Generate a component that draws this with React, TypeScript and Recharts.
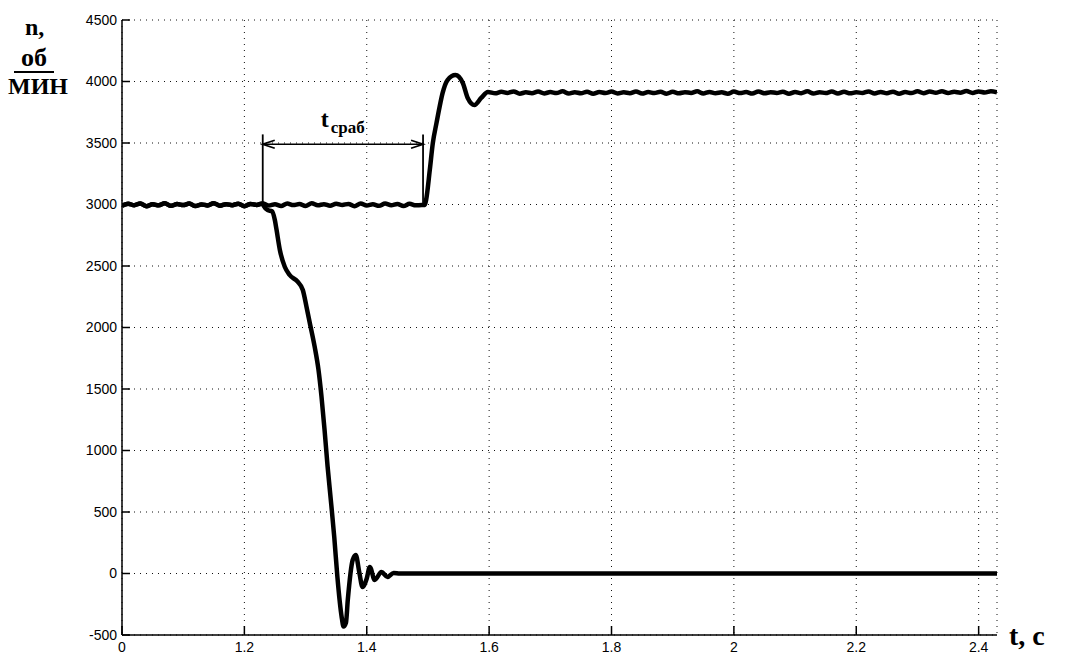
import React from 'react';
import { LineChart, Line, XAxis, YAxis, CartesianGrid, ReferenceLine } from 'recharts';

const X_TICKS = [1.0, 1.2, 1.4, 1.6, 1.8, 2.0, 2.2, 2.4];
const Y_TICKS = [-500, 0, 500, 1000, 1500, 2000, 2500, 3000, 3500, 4000, 4500];

// speed ripple around 3000 rpm, one sample every 10 ms from 1.00 s
const rippleLow = [
  2990, 3006, 2994, 3009, 2986, 3002, 2993, 3010, 2989, 3004,
  2995, 3008, 2987, 3001, 2992, 3011, 2990, 3003, 2994, 3007,
  2986, 3005, 2996, 3009, 2991, 3002, 2988, 3008, 2995, 3004,
  2987, 3010, 2993, 3003, 2990, 3007, 2996, 3005, 2986, 3009,
  2992, 3002, 2989, 3008, 2994, 3004, 2987, 3006, 2993, 2996,
];

// braking of the failed motor down to standstill
const dropTimes = [
  1.232, 1.238, 1.245, 1.2498, 1.2526, 1.258, 1.266, 1.274, 1.287, 1.2955,
  1.3015, 1.307, 1.315, 1.321, 1.326, 1.331, 1.336, 1.342, 1.347, 1.352,
  1.359, 1.362, 1.366, 1.369, 1.377, 1.382, 1.388, 1.393, 1.4, 1.405,
  1.413, 1.424, 1.434, 1.444, 1.454, 1.5, 2.0, 2.43,
];
const dropSpeeds = [
  2985, 2955, 2945, 2874, 2793, 2630, 2494, 2427, 2372, 2305,
  2169, 2035, 1840, 1660, 1440, 1170, 870, 560, 290, -28,
  -354, -430, -400, -216, 110, 150, 4, -110, -40, 53,
  -53, 12, -28, 5, 0, 0, 0, 0,
];

// acceleration of the reserve drive after switching
const riseTimes = [
  1.495, 1.497, 1.503, 1.508, 1.514, 1.519, 1.524, 1.532, 1.545, 1.557,
  1.565, 1.576, 1.587, 1.598,
];
const riseSpeeds = [
  2996, 3037, 3280, 3500, 3663, 3793, 3907, 4012, 4053, 3988,
  3866, 3809, 3866, 3915,
];

// speed ripple around 3910 rpm, one sample every 10 ms from 1.61 s
const rippleHigh = [
  3904, 3916, 3907, 3919, 3901, 3912, 3905, 3918, 3903, 3914,
  3906, 3920, 3902, 3913, 3904, 3917, 3900, 3915, 3907, 3918,
  3903, 3912, 3905, 3919, 3902, 3914, 3906, 3917, 3901, 3916,
  3904, 3913, 3907, 3920, 3903, 3915, 3905, 3912, 3901, 3918,
  3906, 3914, 3902, 3919, 3904, 3913, 3907, 3917, 3900, 3915,
  3905, 3920, 3903, 3913, 3906, 3918, 3902, 3916, 3904, 3912,
  3907, 3919, 3903, 3915, 3905, 3917, 3901, 3914, 3906, 3920,
  3905, 3918, 3908, 3921, 3906, 3916, 3909, 3922, 3907, 3919,
  3910, 3921, 3912,
];

// response time marker: t_сраб between fault and switching
const T_FAULT = 1.23;
const T_SWITCH = 1.492;
const ARROW_LEVEL = 3490;
const MARK_TOP = 3570;
const MARK_BASE = 3000;

type Pt = { t: number; n: number };

const sampled = (start: number, vals: number[]): Pt[] =>
  vals.map((n, i) => ({ t: +(start + i * 0.01).toFixed(3), n }));
const paired = (ts: number[], ns: number[]): Pt[] => ts.map((t, i) => ({ t, n: ns[i] }));

const failedMotor = [...sampled(1.0, rippleLow.slice(0, 24)), ...paired(dropTimes, dropSpeeds)];
const reserveMotor = [
  ...sampled(1.0, rippleLow),
  ...paired(riseTimes, riseSpeeds),
  ...sampled(1.61, rippleHigh),
];

const tickFont = { fontFamily: 'Liberation Sans, Arial, sans-serif', fontSize: 14, fill: '#000' };
const serif = 'Liberation Serif, Times New Roman, serif';

const DoubleArrow = (props: any) => {
  const { x1, y1, x2, y2 } = props;
  const h = 12;
  const w = 4;
  return (
    <g>
      <line x1={x1} y1={y1} x2={x2} y2={y2} stroke="#000" strokeWidth={1.5} />
      <path d={`M${x1 + h},${y1 - w} L${x1},${y1} L${x1 + h},${y1 + w}`} fill="none" stroke="#000" strokeWidth={1.8} />
      <path d={`M${x2 - h},${y2 - w} L${x2},${y2} L${x2 - h},${y2 + w}`} fill="none" stroke="#000" strokeWidth={1.8} />
      <text x={x1 + 58} y={y1 - 17} fontFamily={serif} fontWeight="bold" fontSize={24} fill="#000">
        t
        <tspan fontSize={17} dx={2} dy={6}>сраб</tspan>
      </text>
    </g>
  );
};

export default function App() {
  return (
    <div style={{ position: 'absolute', left: 0, top: 0, width: 1065, height: 657, background: '#fff' }}>
      <LineChart
        width={1065}
        height={657}
        margin={{ top: 20, right: 68, bottom: 0, left: 0 }}
      >
        <CartesianGrid stroke="#111" strokeDasharray="1 5" strokeWidth={1} />
        <XAxis
          dataKey="t"
          type="number"
          domain={[1.0, 2.43]}
          allowDataOverflow
          ticks={X_TICKS}
          interval={0}
          tickFormatter={(v: number) => (v === 1 ? '0' : String(v))}
          height={22}
          tickSize={-9}
          tickMargin={16}
          tick={tickFont}
          axisLine={{ stroke: '#000', strokeWidth: 1.5 }}
          tickLine={{ stroke: '#000', strokeWidth: 1.5 }}
        />
        <XAxis
          xAxisId="top"
          orientation="top"
          type="number"
          domain={[1.0, 2.43]}
          allowDataOverflow
          ticks={X_TICKS}
          interval={0}
          height={0}
          tickSize={-9}
          tick={false}
          axisLine={{ stroke: '#000', strokeWidth: 1.5 }}
          tickLine={{ stroke: '#000', strokeWidth: 1.5 }}
        />
        <YAxis
          type="number"
          domain={[-500, 4500]}
          allowDataOverflow
          ticks={Y_TICKS}
          interval={0}
          width={122}
          tickSize={-8}
          tickMargin={13}
          tick={tickFont}
          axisLine={{ stroke: '#000', strokeWidth: 1.5 }}
          tickLine={{ stroke: '#000', strokeWidth: 1.5 }}
        />
        <YAxis
          yAxisId="right"
          orientation="right"
          type="number"
          domain={[-500, 4500]}
          allowDataOverflow
          ticks={Y_TICKS}
          interval={0}
          width={0}
          tickSize={-8}
          tick={false}
          axisLine={{ stroke: '#000', strokeWidth: 1.5 }}
          tickLine={{ stroke: '#000', strokeWidth: 1.5 }}
        />
        <Line
          data={failedMotor}
          dataKey="n"
          type="monotone"
          stroke="#000"
          strokeWidth={4.5}
          dot={false}
          isAnimationActive={false}
        />
        <Line
          data={reserveMotor}
          dataKey="n"
          type="monotone"
          stroke="#000"
          strokeWidth={4.5}
          dot={false}
          isAnimationActive={false}
        />
        <ReferenceLine
          segment={[{ x: T_FAULT, y: MARK_BASE }, { x: T_FAULT, y: MARK_TOP }]}
          stroke="#000"
          strokeWidth={1.8}
        />
        <ReferenceLine
          segment={[{ x: T_SWITCH, y: MARK_BASE }, { x: T_SWITCH, y: MARK_TOP }]}
          stroke="#000"
          strokeWidth={1.8}
        />
        <ReferenceLine
          segment={[{ x: T_FAULT, y: ARROW_LEVEL }, { x: T_SWITCH, y: ARROW_LEVEL }]}
          shape={DoubleArrow}
        />
      </LineChart>
      <svg
        width={1065}
        height={657}
        style={{ position: 'absolute', left: 0, top: 0, pointerEvents: 'none' }}
      >
        <g fontFamily={serif} fontWeight="bold" fill="#000">
          <text x={25} y={35} fontSize={24}>n,</text>
          <text x={34} y={66} fontSize={26} textAnchor="middle">об</text>
          <line x1={14} y1={72} x2={54} y2={72} stroke="#000" strokeWidth={2} />
          <text x={38} y={94} fontSize={24} textAnchor="middle">МИН</text>
          <text x={1009} y={645} fontSize={28}>t, c</text>
        </g>
      </svg>
    </div>
  );
}
